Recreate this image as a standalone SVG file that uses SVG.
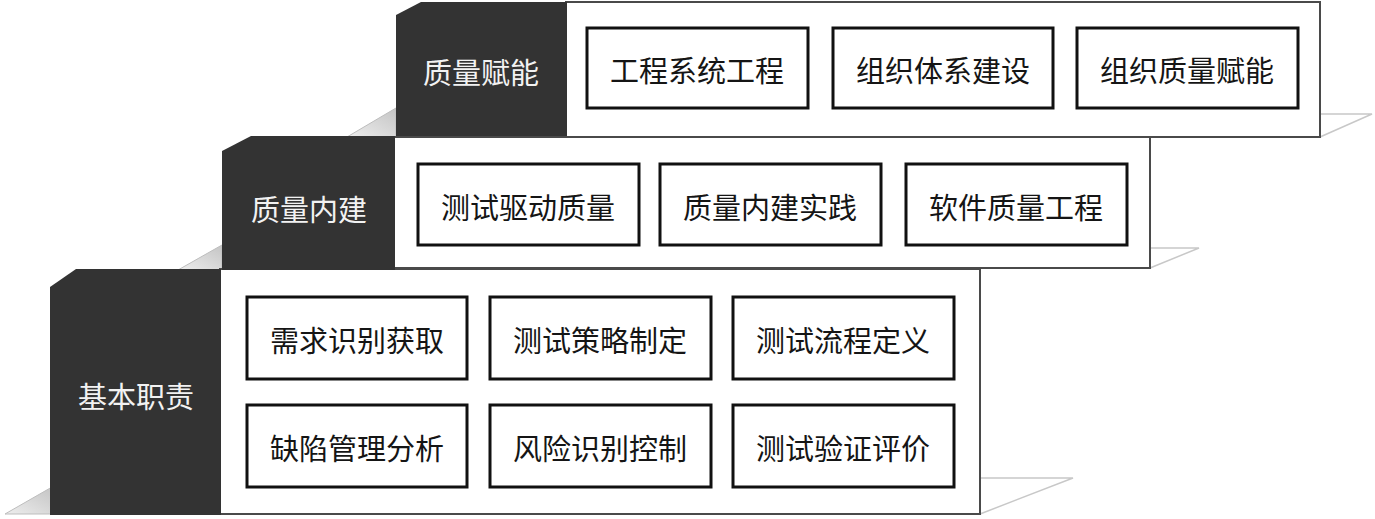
<svg xmlns="http://www.w3.org/2000/svg" width="1375" height="519" viewBox="0 0 1375 519">
<style>
.panel{fill:#fff;stroke:#4a4a4a;stroke-width:2}
.dark{fill:#333333}
.box{fill:#fff;stroke:#111;stroke-width:3}
.floor{fill:none;stroke:#c8c8c8;stroke-width:1.5}
.tri{fill:url(#g);stroke:#bdbdbd;stroke-width:1}
.t{font-family:"Noto Sans CJK SC","Noto Sans CJK JP",sans-serif;font-size:29px;text-anchor:middle;dominant-baseline:central}
.tb{fill:#151515}
.tw{fill:#f2f2f2}
</style>
<defs>
<linearGradient id="g" x1="0" y1="1" x2="1" y2="0">
<stop offset="0" stop-color="#eeeeee"/>
<stop offset="1" stop-color="#c4c4c4"/>
</linearGradient>
</defs>
<g id="floors">
<polygon class="tri" points="347,137 396,108 396,137"/>
<polygon class="tri" points="178,270 222,245 222,270"/>
<polygon class="tri" points="5,514 52,487 52,514"/>
<polyline class="floor" points="1320,137 1372,114 1320,114"/>
<polyline class="floor" points="1150,268 1199,248 1150,248"/>
<polyline class="floor" points="980,514 1073,478 980,478"/>
</g>
<g id="tier3">
<rect class="panel" x="220" y="269" width="760" height="245"/>
<polygon class="dark" points="50,287 76,269 221,269 221,515 50,515"/>
<text class="t tw" x="136" y="395">基本职责</text>
</g>
<g id="tier2">
<rect class="panel" x="394" y="137" width="756" height="131"/>
<polygon class="dark" points="222,151 251,136 395,136 395,270 222,270"/>
<text class="t tw" x="309" y="208">质量内建</text>
</g>
<g id="tier1">
<rect class="panel" x="566" y="2" width="754" height="135"/>
<polygon class="dark" points="396,15 421,2 567,2 567,136 396,136"/>
<text class="t tw" x="481" y="71">质量赋能</text>
</g>
<g id="n1"><rect class="box" x="587" y="28" width="221" height="80"/><text class="t tb" x="697" y="69">工程系统工程</text></g>
<g id="n2"><rect class="box" x="833" y="28" width="220" height="80"/><text class="t tb" x="943" y="69">组织体系建设</text></g>
<g id="n3"><rect class="box" x="1077" y="28" width="221" height="80"/><text class="t tb" x="1187" y="69">组织质量赋能</text></g>
<g id="n4"><rect class="box" x="418" y="164" width="221" height="81"/><text class="t tb" x="528" y="206">测试驱动质量</text></g>
<g id="n5"><rect class="box" x="660" y="164" width="221" height="81"/><text class="t tb" x="770" y="206">质量内建实践</text></g>
<g id="n6"><rect class="box" x="906" y="164" width="221" height="81"/><text class="t tb" x="1016" y="206">软件质量工程</text></g>
<g id="n7"><rect class="box" x="247" y="297" width="220" height="82"/><text class="t tb" x="357" y="339">需求识别获取</text></g>
<g id="n8"><rect class="box" x="490" y="297" width="221" height="82"/><text class="t tb" x="600" y="339">测试策略制定</text></g>
<g id="n9"><rect class="box" x="733" y="297" width="221" height="82"/><text class="t tb" x="843" y="339">测试流程定义</text></g>
<g id="n10"><rect class="box" x="247" y="405" width="220" height="82"/><text class="t tb" x="357" y="447">缺陷管理分析</text></g>
<g id="n11"><rect class="box" x="490" y="405" width="221" height="82"/><text class="t tb" x="600" y="447">风险识别控制</text></g>
<g id="n12"><rect class="box" x="733" y="405" width="221" height="82"/><text class="t tb" x="843" y="447">测试验证评价</text></g>
<g id="connectors"></g>
</svg>
